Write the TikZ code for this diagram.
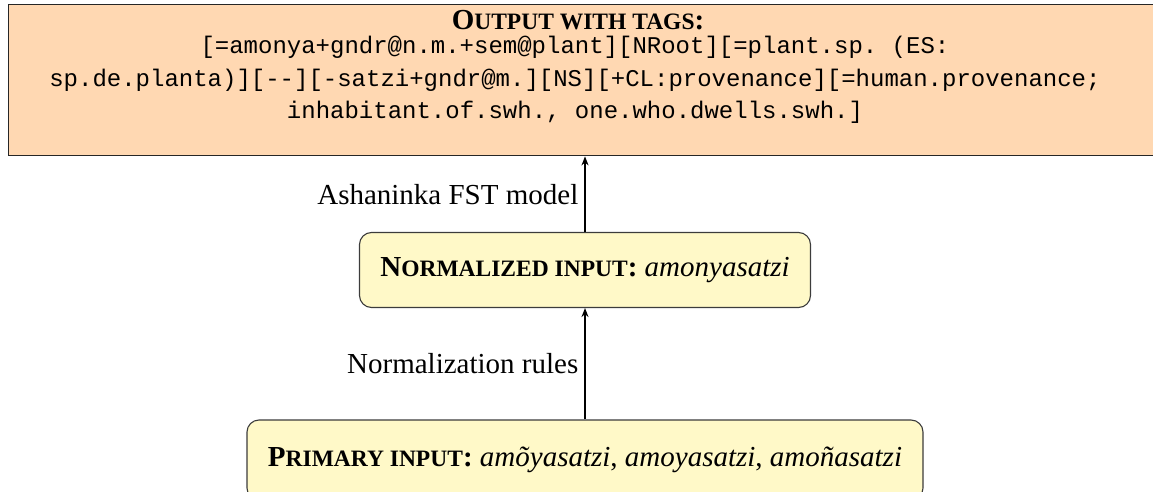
\documentclass[tikz,border=0pt]{standalone}
\usepackage{fontspec}
\setmainfont{Liberation Serif}
\setmonofont{Liberation Mono}
\usetikzlibrary{arrows.meta}
\definecolor{peach}{RGB}{255,216,178}
\definecolor{lemon}{RGB}{255,249,200}
\definecolor{edgegray}{RGB}{60,60,60}
\newcommand\bigf{\fontsize{29}{34}\selectfont}
\newcommand\smc{\fontsize{23.5}{28}\selectfont}
\newcommand\ttf{\fontsize{24}{32.5}\selectfont\ttfamily}
\begin{document}
\begin{tikzpicture}[x=1pt,y=-1pt,
  outbox/.style={draw=black!85, line width=1.4pt, fill=peach, rectangle, inner sep=0pt},
  inbox/.style={draw=edgegray, line width=1.1pt, fill=lemon, rounded corners=12pt, inner sep=0pt, font=\bigf},
  lab/.style={font=\bigf, inner sep=6pt},
  flow/.style={line width=1.4pt, -{Stealth[length=9pt,width=7pt]}}]
\useasboundingbox (0,0) rectangle (1153,492);
\clip (0,0) rectangle (1153,492);
\node[outbox, anchor=north west, minimum width=1170pt, minimum height=151pt] (out) at (8,4) {};
\node[inner sep=0pt, font=\bigf\bfseries] (outtitle) at (578,20) {O\smc UTPUT WITH TAGS\bigf:};
\node[align=center, inner sep=0pt, font=\ttf] (tags) at (575,80) {[=amonya+gndr@n.m.+sem@plant][NRoot][=plant.sp. (ES:\\ sp.de.planta)][-{}-][-satzi+gndr@m.][NS][+CL:provenance][=human.provenance;\\ inhabitant.of.swh., one.who.dwells.swh.]};
\node[inbox, minimum width=451pt, minimum height=75pt] (norm) at (585,270) {\bfseries N\smc ORMALIZED INPUT\bigf: \mdseries\itshape amonyasatzi};
\node[inbox, minimum width=676pt, minimum height=80pt] (prim) at (585,460) {\bfseries P\smc RIMARY INPUT\bigf: \mdseries\itshape amõyasatzi\upshape, \itshape amoyasatzi\upshape, \itshape amoñasatzi};
\draw[flow] (norm.north) -- node[lab, left] {Ashaninka FST model} (norm.north |- out.south);
\draw[flow] (prim.north) -- node[lab, left] {Normalization rules} (norm.south);
\end{tikzpicture}
\end{document}
